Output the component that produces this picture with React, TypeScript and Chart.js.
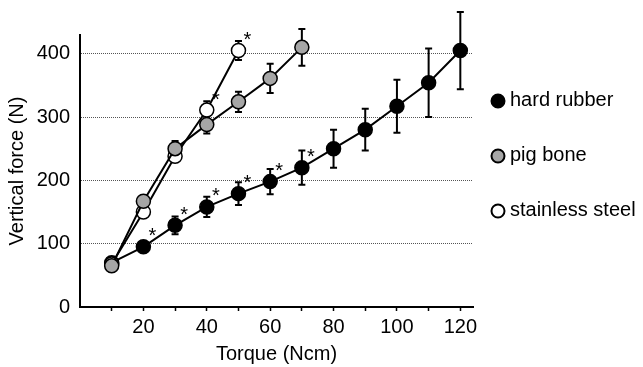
import React, { useEffect, useRef } from "react";
import { Chart, registerables } from "chart.js";

Chart.register(...registerables);

const FONT = "'Liberation Sans', Arial, Helvetica, sans-serif";

// Torque (Ncm) values
const torque = [10, 20, 30, 40, 50, 60, 70, 80, 90, 100, 110, 120];

// Vertical force (N) means and SD
const hardRubber = [70, 95, 129, 158, 179, 198, 220, 250, 280, 317, 354, 405];
const hardRubberErr = [4, 6, 14, 16, 18, 20, 27, 30, 33, 42, 54, 61];
const hardRubberSig = [0, 1, 1, 1, 1, 1, 1, 0, 0, 0, 0, 0];

const pigBone = [65, 167, 250, 288, 324, 361, 410];
const pigBoneErr = [3, 5, 12, 14, 16, 23, 29];
const pigBoneSig = [0, 0, 0, 0, 0, 0, 0];

const stainlessSteel = [68, 150, 238, 311, 405];
const stainlessSteelErr = [3, 4, 5, 14, 15];
const stainlessSteelSig = [0, 0, 0, 1, 1];

const seriesLabels = ["hard rubber", "pig bone", "stainless steel"];
const seriesFills = ["#000000", "#a6a6a6", "#ffffff"];

const xTickValues = [10, 20, 30, 40, 50, 60, 70, 80, 90, 100, 110, 120];
const xTickLabels = [20, 40, 60, 80, 100, 120];
const yTickValues = [0, 100, 200, 300, 400];

const X_MIN = 0;
const X_MAX = 124;
const Y_MIN = 0;
const Y_MAX = 429.5;

const toPoints = (vals: number[]) => vals.map((v, i) => ({ x: torque[i], y: v }));

const errorBarPlugin = {
  id: "errorBars",
  beforeDatasetsDraw(chart: any) {
    const { ctx } = chart;
    const yScale = chart.scales.y;
    chart.data.datasets.forEach((ds: any, di: number) => {
      const meta = chart.getDatasetMeta(di);
      const errs: number[] = ds.errors || [];
      ctx.save();
      ctx.strokeStyle = "#000";
      ctx.lineWidth = 2;
      meta.data.forEach((el: any, i: number) => {
        const v = ds.data[i].y;
        const e = errs[i] || 0;
        if (!e) return;
        const x = el.x;
        const yt = yScale.getPixelForValue(v + e);
        const yb = yScale.getPixelForValue(v - e);
        ctx.beginPath();
        ctx.moveTo(x, yt);
        ctx.lineTo(x, yb);
        ctx.moveTo(x - 3.5, yt);
        ctx.lineTo(x + 3.5, yt);
        ctx.moveTo(x - 3.5, yb);
        ctx.lineTo(x + 3.5, yb);
        ctx.stroke();
      });
      ctx.restore();
    });
  },
};

const asteriskPlugin = {
  id: "asterisks",
  afterDatasetsDraw(chart: any) {
    const { ctx } = chart;
    ctx.save();
    ctx.fillStyle = "#000";
    ctx.font = `20px ${FONT}`;
    ctx.textAlign = "center";
    ctx.textBaseline = "alphabetic";
    chart.data.datasets.forEach((ds: any, di: number) => {
      const meta = chart.getDatasetMeta(di);
      const sig: number[] = ds.sig || [];
      meta.data.forEach((el: any, i: number) => {
        if (sig[i]) ctx.fillText("*", el.x + 9, el.y - 4.5);
      });
    });
    ctx.restore();
  },
};

const legendPlugin = {
  id: "sideLegend",
  afterDraw(chart: any) {
    const { ctx, chartArea } = chart;
    ctx.save();
    ctx.font = `20px ${FONT}`;
    ctx.textBaseline = "middle";
    ctx.textAlign = "left";
    chart.data.datasets.forEach((ds: any, i: number) => {
      const y = chartArea.top + 65 + i * 55;
      const cx = chartArea.right + 25;
      ctx.beginPath();
      ctx.arc(cx, y + 1, 6.5, 0, Math.PI * 2);
      ctx.fillStyle = ds.pointBackgroundColor;
      ctx.fill();
      ctx.lineWidth = 2;
      ctx.strokeStyle = "#000";
      ctx.stroke();
      ctx.fillStyle = "#000";
      ctx.fillText(ds.label, chartArea.right + 37, y);
    });
    ctx.restore();
  },
};

function makeDataset(idx: number, vals: number[], errs: number[], sig: number[], order: number) {
  return {
    label: seriesLabels[idx],
    data: toPoints(vals),
    errors: errs,
    sig: sig,
    order: order,
    borderColor: "#000",
    borderWidth: 2,
    pointRadius: 7,
    pointHoverRadius: 7,
    pointBorderWidth: 1.5,
    pointBorderColor: "#000",
    pointBackgroundColor: seriesFills[idx],
    backgroundColor: seriesFills[idx],
    fill: false,
    tension: 0,
    clip: false,
  };
}

export default function App() {
  const ref = useRef<HTMLCanvasElement | null>(null);

  useEffect(() => {
    if (!ref.current) return;
    const tickFont = { family: FONT, size: 20 };
    const chart = new Chart(ref.current, {
      type: "line",
      data: {
        datasets: [
          makeDataset(0, hardRubber, hardRubberErr, hardRubberSig, 2),
          makeDataset(1, pigBone, pigBoneErr, pigBoneSig, 0),
          makeDataset(2, stainlessSteel, stainlessSteelErr, stainlessSteelSig, 1),
        ] as any,
      },
      options: {
        responsive: false,
        animation: false,
        events: [],
        layout: { padding: { top: 35, right: 170, left: 0, bottom: 0 } },
        plugins: {
          legend: { display: false },
          tooltip: { enabled: false },
        },
        scales: {
          x: {
            type: "linear",
            min: X_MIN,
            max: X_MAX,
            afterBuildTicks: (s: any) => {
              s.ticks = xTickValues.map((v) => ({ value: v }));
            },
            afterFit: (s: any) => {
              s.height = 60;
            },
            grid: {
              drawOnChartArea: false,
              drawTicks: true,
              tickLength: 4,
              color: "#000",
              tickColor: "#000",
              tickWidth: 1.5,
            },
            border: { color: "#000", width: 2 },
            ticks: {
              autoSkip: false,
              maxRotation: 0,
              padding: 4,
              color: "#000",
              font: tickFont,
              callback: (v: any) => (xTickLabels.includes(Number(v)) ? String(v) : ""),
            },
            title: {
              display: true,
              text: "Torque (Ncm)",
              color: "#000",
              font: { family: FONT, size: 20 },
              padding: { top: 0, bottom: 1 },
            },
          },
          y: {
            type: "linear",
            min: Y_MIN,
            max: Y_MAX,
            afterBuildTicks: (s: any) => {
              s.ticks = yTickValues.map((v) => ({ value: v }));
            },
            afterFit: (s: any) => {
              s.width = 80;
            },
            grid: {
              drawTicks: false,
              lineWidth: 1,
              color: (c: any) => (c.tick && c.tick.value === 0 ? "rgba(0,0,0,0)" : "#555"),
            },
            border: { color: "#000", width: 2, dash: [1, 1] },
            ticks: {
              padding: 10,
              color: "#000",
              font: tickFont,
            },
            title: {
              display: true,
              text: "Vertical force (N)",
              color: "#000",
              font: { family: FONT, size: 20 },
              padding: { top: 5, bottom: 0 },
            },
          },
        },
      },
      plugins: [errorBarPlugin, asteriskPlugin, legendPlugin],
    } as any);
    return () => chart.destroy();
  }, []);

  return (
    <div style={{ position: "fixed", left: 0, top: 0, width: 643, height: 367, background: "#fff" }}>
      <canvas ref={ref} width={643} height={367} style={{ display: "block" }} />
    </div>
  );
}
